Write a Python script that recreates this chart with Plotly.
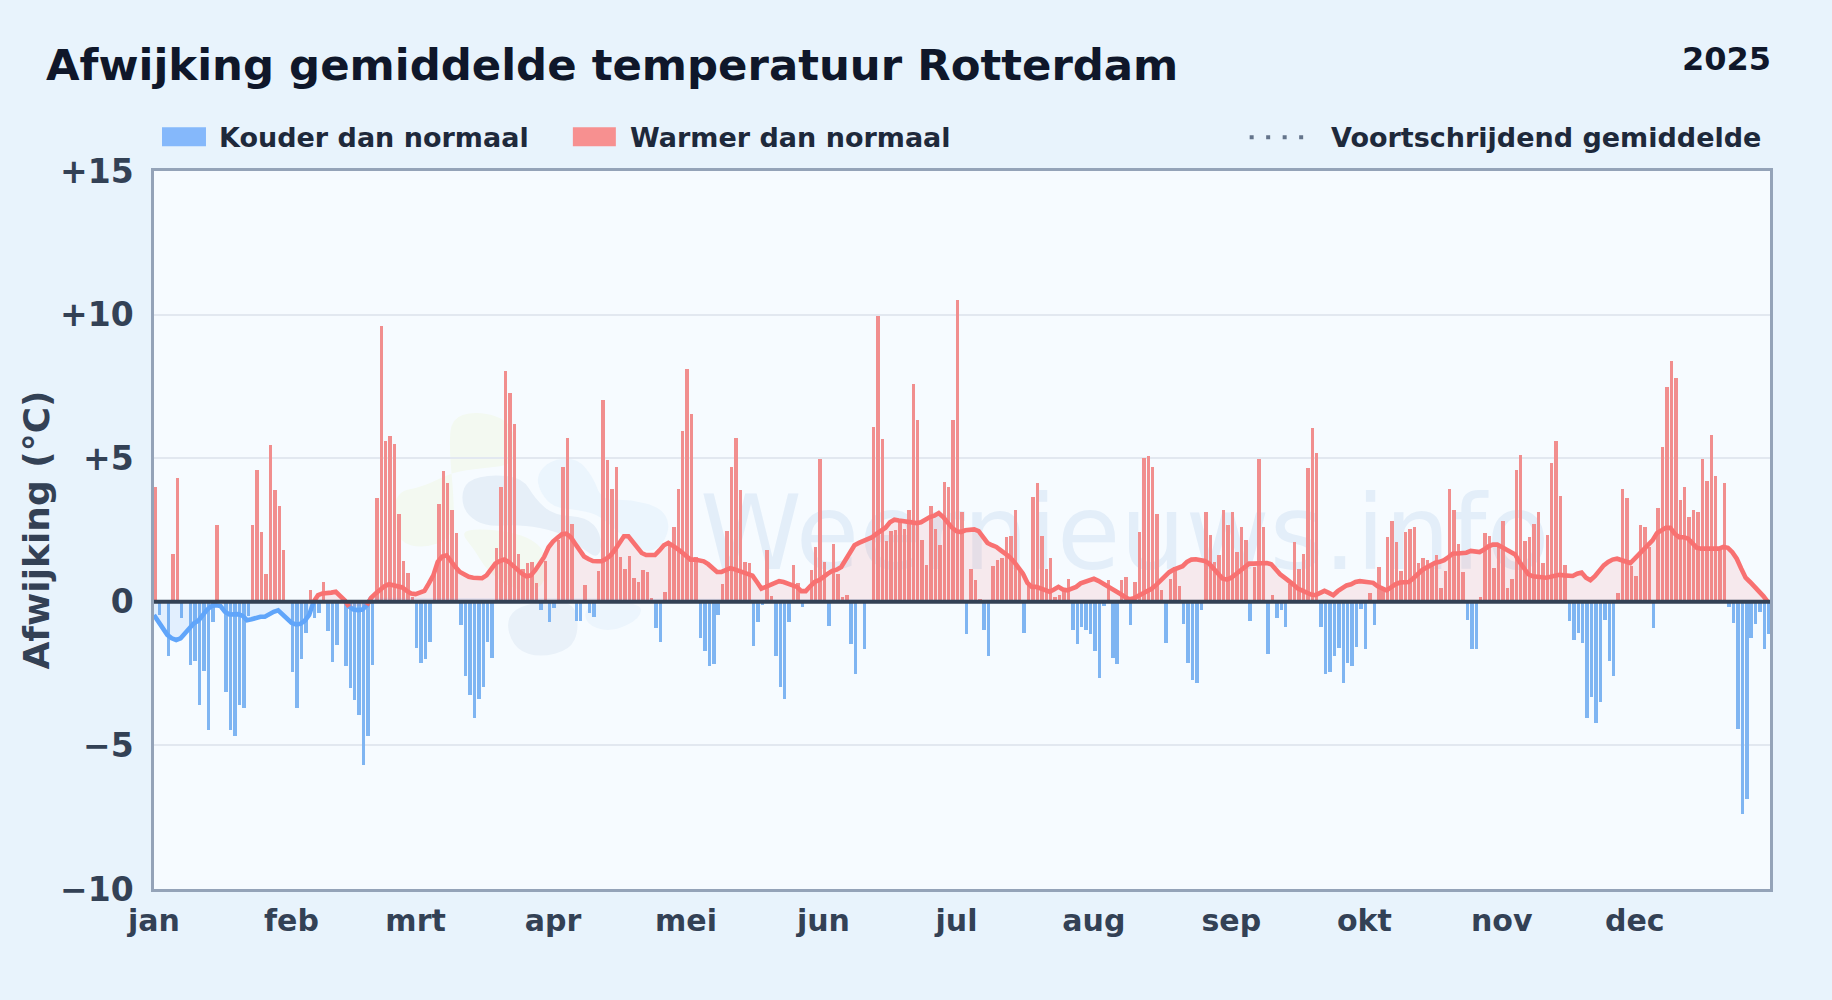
import plotly.graph_objects as go

months = ["jan","feb","mrt","apr","mei","jun","jul","aug","sep","okt","nov","dec"]
month_start_day = [0,31,59,90,120,151,181,212,243,273,304,334]
y_tick_vals = [-10,-5,0,5,10,15]
y_tick_text = ["−10","−5","0","+5","+10","+15"]

daily_anomaly = [
3.99,-.46,0,-1.87,1.65,4.32,-.55,0,-2.2,-2.05,-3.6,-2.4,-4.47,-.7,2.66,0,-3.15,-4.45,-4.68,-3.6,
-3.7,-.5,2.66,4.6,2.42,.96,5.47,3.9,3.35,1.8,0,-2.43,-3.7,-1.98,-1.1,.4,-.55,-.38,.68,-1.0,
-2.08,-1.49,0,-2.25,-3.0,-3.43,-3.95,-5.68,-4.68,-2.2,3.6,9.6,5.6,5.78,5.5,3.07,1.41,1.0,.17,-1.6,
-2.12,-1.98,-1.39,1.1,3.42,4.57,4.12,3.21,2.38,-.8,-2.57,-3.26,-4.06,-3.4,-2.98,-1.39,-1.94,1.86,3.98,8.03,
7.27,6.2,1.65,1.13,1.34,1.38,.65,-.29,1.41,-.69,-.2,2.14,4.7,5.71,2.7,-.66,-.66,.58,-.38,-.52,
1.06,7.03,4.95,3.94,4.7,1.55,1.13,1.58,.82,.68,1.1,1.03,.12,-.9,-1.39,.34,2.0,2.62,3.94,5.95,
8.1,6.54,1.56,-1.25,-1.73,-2.22,-2.15,-.45,.61,2.45,4.7,5.71,3.91,1.38,1.34,-1.53,-.69,-.1,1.79,.2,
-1.87,-2.98,-3.4,-.69,1.27,.64,-.17,0,1.1,1.9,4.98,1.38,-.83,2.0,.96,.15,.23,-1.46,-2.5,0,
-1.63,0,6.09,9.94,5.68,2.1,2.45,2.49,2.78,2.55,3.18,7.58,6.33,2.14,1.27,3.35,2.55,1.97,4.18,4.01,
6.33,10.5,3.11,-1.11,1.13,.75,.1,-.97,-1.9,1.24,1.45,1.51,2.24,2.28,3.18,1.2,-1.08,.7,3.66,4.12,
2.28,1.13,1.51,.15,.22,.4,.79,-.97,-1.46,-.87,-.97,-1.11,-1.73,-2.67,-.14,.75,-1.94,-2.15,.75,.86,
-.8,.68,2.42,5.02,5.09,4.7,3.07,.4,-1.42,.79,1.2,.54,-.76,-2.12,-2.74,-2.81,-.28,3.14,2.31,1.38,
1.62,3.21,2.66,3.11,1.72,2.59,2.14,-.66,1.2,4.98,2.59,-1.8,.23,-.55,-.28,-.87,.61,2.07,1.13,1.65,
4.67,6.06,5.19,-.87,-2.53,-2.43,-1.87,-1.6,-2.81,-2.12,-2.25,-1.56,-.24,-1.63,.3,-.8,1.2,.4,2.24,2.8,
2.07,1.06,2.42,2.52,2.62,1.34,1.51,1.45,1.27,1.62,.47,1.06,3.94,3.21,2.03,1.03,-.62,-1.66,-1.63,.16,
2.38,2.28,1.17,1.9,2.8,.47,.79,4.6,5.12,2.1,2.24,2.7,3.11,1.34,2.31,4.84,5.61,3.7,1.27,-.66,
-1.32,-1.08,-1.42,-4.06,-3.33,-4.23,-3.5,-.62,-2.05,-2.57,.3,3.94,3.63,1.24,.89,2.66,2.62,1.9,-.9,3.25,
5.4,7.48,8.38,7.79,3.56,3.98,2.94,3.21,3.14,4.98,4.22,5.82,4.39,1.85,4.15,-.17,-.73,-4.44,-7.38,-6.85,
-1.25,-.76,-.37,-1.63,-1.11,
]

rolling_mean = [
-.46,-.7,-.98,-1.15,-1.27,-1.33,-1.27,-1.1,-.87,-.75,-.66,-.46,-.27,-.15,-.12,-.15,-.35,-.44,-.44,-.43,
-.49,-.64,-.61,-.55,-.52,-.52,-.43,-.35,-.3,-.46,-.61,-.73,-.79,-.77,-.66,-.46,0,.23,.29,.29,
.32,.35,.2,.05,-.17,-.27,-.29,-.27,-.12,.14,.29,.43,.54,.61,.58,.54,.5,.38,.29,.27,
.31,.38,.64,.92,1.39,1.58,1.62,1.39,1.21,1.04,.95,.87,.84,.83,.82,.92,1.1,1.33,1.42,1.47,
1.39,1.25,1.1,.98,.89,.92,1.1,1.33,1.56,1.9,2.1,2.23,2.35,2.37,2.25,2.02,1.79,1.58,1.49,1.42,
1.41,1.41,1.5,1.62,1.82,2.08,2.28,2.28,2.08,1.87,1.7,1.63,1.62,1.63,1.79,1.97,2.05,1.97,1.85,1.73,
1.58,1.47,1.47,1.43,1.41,1.31,1.18,1.04,1.04,1.12,1.17,1.13,1.08,1.0,.96,.91,.69,.46,.52,.58,
.64,.72,.69,.64,.6,.52,.37,.37,.54,.69,.75,.89,.98,1.08,1.12,1.21,1.47,1.73,1.97,2.05,
2.12,2.18,2.25,2.37,2.46,2.58,2.77,2.86,2.83,2.81,2.8,2.77,2.74,2.77,2.87,2.95,3.0,3.09,2.95,2.74,
2.58,2.46,2.43,2.49,2.52,2.52,2.46,2.25,2.05,1.97,1.91,1.79,1.68,1.56,1.39,1.21,.98,.66,.52,.52,
.46,.38,.35,.43,.52,.43,.4,.46,.52,.64,.69,.75,.8,.73,.64,.54,.46,.4,.27,.17,
.09,.12,.2,.29,.38,.45,.58,.73,.89,1.03,1.12,1.16,1.24,1.39,1.47,1.48,1.45,1.42,1.33,1.16,
.98,.81,.77,.84,.96,1.1,1.21,1.33,1.33,1.33,1.33,1.35,1.31,1.12,.96,.84,.73,.6,.46,.38,
.31,.25,.23,.31,.38,.31,.23,.37,.46,.57,.61,.69,.72,.69,.69,.66,.54,.46,.4,.5,
.61,.67,.69,.69,.81,.96,1.1,1.19,1.27,1.36,1.39,1.45,1.56,1.68,1.68,1.68,1.71,1.77,1.73,1.73,
1.82,1.93,1.99,1.99,1.91,1.82,1.77,1.65,1.39,1.16,.96,.89,.87,.87,.84,.87,.91,.94,.92,.9,
.9,.98,1.02,.84,.75,.89,1.08,1.27,1.39,1.47,1.5,1.45,1.36,1.35,1.5,1.65,1.85,2.0,2.14,2.39,
2.51,2.58,2.58,2.37,2.25,2.25,2.2,2.05,1.88,1.85,1.85,1.83,1.82,1.85,1.91,1.88,1.73,1.5,1.16,.84,
.69,.54,.38,.2,0,
]

days = list(range(len(daily_anomaly)))
warm_days = [d for d, v in zip(days, daily_anomaly) if v > 0]
warm_vals = [v for v in daily_anomaly if v > 0]
cold_days = [d for d, v in zip(days, daily_anomaly) if v < 0]
cold_vals = [v for v in daily_anomaly if v < 0]

warm_line, cold_line = [], []
for i, v in enumerate(rolling_mean):
    prev_v = rolling_mean[i-1] if i else v
    next_v = rolling_mean[i+1] if i < len(rolling_mean)-1 else v
    warm_line.append(v if v >= 0 or prev_v > 0 or next_v > 0 else None)
    cold_line.append(v if v <= 0 or prev_v < 0 or next_v < 0 else None)

PX_L, PX_R, PX_T, PX_B = 154.0, 1770.5, 170.7, 889.0
W, H = 1832, 1000
def px(x): return (x-PX_L)/(PX_R-PX_L)
def py(y): return (PX_B-y)/(PX_B-PX_T)

def blob(points, color):
    pts = [(px(380+a/3), py(400+b/3)) for a, b in points]
    n = len(pts)
    mid = lambda p, q: ((p[0]+q[0])/2, (p[1]+q[1])/2)
    s = mid(pts[-1], pts[0])
    path = f"M {s[0]:.5f} {s[1]:.5f} "
    for i in range(n):
        m = mid(pts[i], pts[(i+1) % n])
        path += f"Q {pts[i][0]:.5f} {pts[i][1]:.5f} {m[0]:.5f} {m[1]:.5f} "
    return dict(type="path", xref="paper", yref="paper", path=path+"Z",
                fillcolor=color, line=dict(width=0), layer="below")

shapes = [
    blob([(205,110),(225,45),(310,35),(390,65),(412,140),(395,195),(300,205),(220,215),(130,260),(50,275),(42,350),(55,425),(130,445),(215,415),(225,330)], "#f3f9f1"),
    blob([(240,395),(300,385),(420,400),(490,440),(505,510),(480,570),(400,570),(320,510),(285,450)], "#f3f9f1"),
    blob([(470,225),(510,180),(590,172),(640,230),(665,300),(750,298),(840,320),(872,370),(850,435),(800,460),(730,410),(660,345),(600,330),(520,322),(480,275)], "#ebf5fd"),
    blob([(243,290),(262,240),(340,222),(430,235),(465,295),(520,345),(620,350),(665,400),(660,480),(600,440),(540,395),(420,372),(320,380),(260,345)], "#e6eff8"),
    blob([(378,680),(400,625),(500,600),(585,610),(597,690),(570,750),(480,772),(410,750)], "#e9f1f9"),
    blob([(610,640),(640,610),(785,608),(782,655),(700,695),(630,680)], "#ecf5fd"),
    dict(type="rect", xref="paper", yref="paper", x0=px(703), x1=px(1547), y0=py(565), y1=py(487),
         line=dict(width=0), fillcolor="rgba(0,0,0,0)", layer="below",
         label=dict(text="Weernieuws.info", textposition="middle center",
                    font=dict(family="DejaVu Sans", size=103, color="#e3eef9"))),
    dict(type="rect", xref="paper", yref="paper", x0=px(162), x1=px(206), y0=py(146), y1=py(127),
         fillcolor="#85b8fb", line=dict(width=0)),
    dict(type="rect", xref="paper", yref="paper", x0=px(573), x1=px(616), y0=py(146), y1=py(127),
         fillcolor="#f79090", line=dict(width=0)),
    dict(type="line", xref="paper", yref="paper", x0=px(1250), x1=px(1308), y0=py(137), y1=py(137),
         line=dict(color="#64748b", width=4, dash="4px 12.5px")),
    dict(type="line", xref="paper", yref="y", x0=0, x1=1, y0=0, y1=0, line=dict(color="#334155", width=4), layer="above"),
]

BOLD = "DejaVu Sans"
def label(text, x, y, size, color, anchor="left"):
    return dict(text=f"<b>{text}</b>", xref="paper", yref="paper", x=px(x), y=py(y), xanchor=anchor, yanchor="middle",
                showarrow=False, font=dict(family=BOLD, size=size, color=color))

annotations = [
    label("Afwijking gemiddelde temperatuur Rotterdam", 44, 65, 43.4, "#0f172a"),
    label("2025", 1774, 59, 32, "#0f172a", "right"),
    label("Kouder dan normaal", 217, 137, 27, "#1e293b"),
    label("Warmer dan normaal", 628, 137, 27, "#1e293b"),
    label("Voortschrijdend gemiddelde", 1763, 137, 27, "#1e293b", "right"),
]

fig = go.Figure()
fig.add_bar(x=cold_days, y=cold_vals, width=0.78, offset=-0.13, marker=dict(color="#7fb5f2", line=dict(width=0)), showlegend=False)
fig.add_bar(x=warm_days, y=warm_vals, width=0.78, offset=-0.13, marker=dict(color="#f18e8e", line=dict(width=0)), showlegend=False)
fig.add_scatter(x=days, y=cold_line, mode="lines", fill="tozeroy", fillcolor="rgba(96,165,250,0.13)",
                line=dict(color="#60a5fa", width=4.6), showlegend=False)
fig.add_scatter(x=days, y=warm_line, mode="lines", fill="tozeroy", fillcolor="rgba(248,113,113,0.13)",
                line=dict(color="#f87171", width=4.6), showlegend=False)

fig.update_layout(
    width=W, height=H, autosize=False,
    margin=dict(l=PX_L, r=W-PX_R, t=PX_T, b=H-PX_B, pad=0),
    paper_bgcolor="#e8f3fc", plot_bgcolor="#f6fbff",
    barmode="overlay", bargap=0,
    shapes=shapes, annotations=annotations,
    font=dict(family=BOLD),
    hovermode=False,
)
fig.update_xaxes(range=[0,364.5], tickvals=month_start_day, ticktext=[f"<b>{m}</b>" for m in months],
                 tickfont=dict(family=BOLD, size=30, color="#334155"), showgrid=False, zeroline=False,
                 showline=True, mirror=True, linecolor="#94a3b8", linewidth=2.5, ticks="", ticklabelstandoff=3)
fig.update_yaxes(range=[-10,15], tickvals=y_tick_vals, ticktext=[f"<b>{t}</b>" for t in y_tick_text],
                 tickfont=dict(family=BOLD, size=33, color="#334155"), showgrid=True, gridcolor="#e2e8f0", gridwidth=2,
                 zeroline=False, showline=True, mirror=True, linecolor="#94a3b8", linewidth=2.5, ticks="", ticklabelstandoff=11,
                 title=dict(text="<b>Afwijking (°C)</b>", font=dict(family=BOLD, size=36, color="#334155"), standoff=0))

fig.write_html("out.html", config={"displayModeBar": False},
               post_script="document.body.style.margin='0';document.body.style.background='#e8f3fc';")
